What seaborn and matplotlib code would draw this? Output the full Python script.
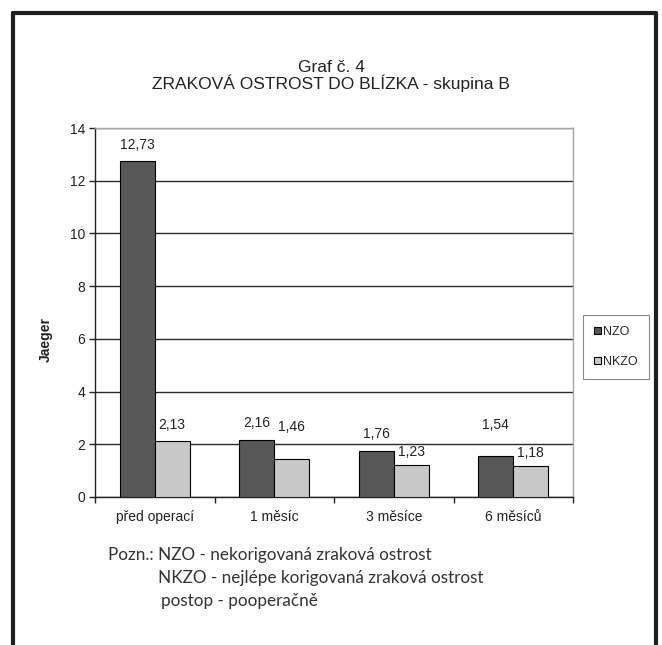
import pandas as pd
import matplotlib.pyplot as plt
from matplotlib.lines import Line2D
import seaborn as sns

# Data
obdobi = ['před operací', '1 měsíc', '3 měsíce', '6 měsíců']
nzo = [12.73, 2.16, 1.76, 1.54]
nkzo = [2.13, 1.46, 1.23, 1.18]
skupiny = ['NZO', 'NKZO']

df = pd.DataFrame({
    'obdobi': obdobi * 2,
    'hodnota': nzo + nkzo,
    'typ': [skupiny[0]] * len(obdobi) + [skupiny[1]] * len(obdobi),
})

sns.set_style('white')
plt.rcParams['font.family'] = ['Liberation Sans Narrow', 'Liberation Sans', 'DejaVu Sans']

fig = plt.figure(figsize=(6.62, 6.45), dpi=100)
W, H = 662, 645
ax = fig.add_axes([95 / W, 1 - 497 / H, 478 / W, 369 / H])

sns.barplot(data=df, x='obdobi', y='hodnota', hue='typ', palette=['#575757', '#c8c8c8'],
            width=0.585, edgecolor='black', linewidth=0.8, saturation=1, ax=ax, zorder=3)

ax.set_ylim(0, 14)
ax.set_yticks(range(0, 15, 2))
ax.set_xlim(-0.5, 3.5)
ax.grid(axis='y', color='#2a2a2a', linewidth=1, zorder=0)
ax.set_axisbelow(True)

# popisky hodnot (posun v pixelech nad sloupcem)
posun = [[16, 16], [17, 32], [17, 13], [31, 13]]
for j, cont in enumerate(ax.containers):
    for i, bar in enumerate(cont):
        v = bar.get_height()
        ax.annotate(f'{v:.2f}'.replace('.', ','), (bar.get_x() + bar.get_width() / 2, v),
                    xytext=(0, posun[i][j]), textcoords='offset pixels',
                    ha='center', va='center', fontsize=10, color='#222222')

for s in ['left', 'bottom']:
    ax.spines[s].set_color('#222222')
    ax.spines[s].set_linewidth(1)
for s in ['top', 'right']:
    ax.spines[s].set_color('#a8a8a8')
    ax.spines[s].set_linewidth(1)

ax.tick_params(axis='y', which='major', left=True, length=4, width=1, color='#222222',
               labelsize=10, labelcolor='#222222', pad=3)
ax.tick_params(axis='x', which='major', bottom=False, labelsize=10, labelcolor='#222222', pad=6)
ax.set_xticks([-0.5, 0.5, 1.5, 2.5, 3.5], minor=True)
ax.tick_params(axis='x', which='minor', bottom=True, length=4, width=1, color='#222222')

ax.set_xlabel('')
ax.set_ylabel('Jaeger', fontsize=10, fontweight='bold', color='#222222')
ax.yaxis.set_label_coords((53 - 95) / 478, (497 - 339) / 369)

handles, labels = ax.get_legend_handles_labels()
ax.legend(handles, labels, loc='upper left', bbox_to_anchor=(583 / W, 1 - 315 / H),
          bbox_transform=fig.transFigure, fancybox=False, edgecolor='#888888',
          fontsize=9, handlelength=0.5, handleheight=0.5, handletextpad=0.2,
          labelspacing=1.4, borderpad=0.9, borderaxespad=0, framealpha=1)
ax.get_legend().get_frame().set_linewidth(0.8)

fig.text(331 / W, 1 - 76 / H, 'Graf č. 4\nZRAKOVÁ OSTROST DO BLÍZKA - skupina B',
         ha='center', va='center', fontsize=12.5, color='#222222', linespacing=1.0)

pozn = ['Pozn.: NZO - nekorigovaná zraková ostrost',
        'NKZO - nejlépe korigovaná zraková ostrost',
        'postop - pooperačně']
for txt, x0, y0 in zip(pozn, [108, 158, 161], [555, 578, 601]):
    fig.text(x0 / W, 1 - y0 / H, txt, ha='left', va='center', fontsize=12.3,
             color='#333333', family=['Lato', 'DejaVu Sans'])

# rám kolem grafu
for xs, ys in [([13, 13], [0, 13]), ([13, 656], [13, 13]), ([656, 656], [13, 0])]:
    fig.add_artist(Line2D([x / W for x in xs], [1 - y / H if y else 0 for y in ys],
                          color='#1e1e1e', linewidth=3))

fig.savefig('out.png', dpi=100, facecolor='white')
